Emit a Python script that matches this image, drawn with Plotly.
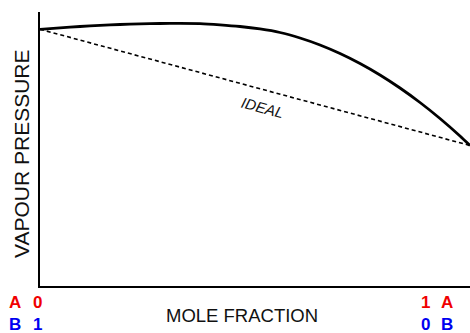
import plotly.graph_objects as go

# Mole fraction of A (0 -> 1)
mole_fraction = [0.0, 0.0465, 0.093, 0.1395, 0.186, 0.2326, 0.279, 0.3256, 0.372,
                 0.4186, 0.4651, 0.5116, 0.5581, 0.6047, 0.6512, 0.6977, 0.7442,
                 0.7907, 0.8372, 0.8837, 0.9302, 0.9767, 1.0]
# Observed vapour pressure (arbitrary units)
vapour_pressure = [93.69, 94.23, 94.71, 95.11, 95.44, 95.66, 95.80, 95.84, 95.77,
                   95.33, 94.71, 93.80, 92.52, 90.51, 87.96, 84.85, 81.20,
                   77.01, 72.26, 66.97, 61.13, 54.74, 51.28]
# Ideal (Raoult's law) line endpoints
ideal_x = [0.0, 1.0]
ideal_y = [93.69, 51.28]

W, H = 470, 333
ML, MR, MT, MB = 40, 0, 12, 47
PW, PH = W - ML - MR, H - MT - MB

def px(x):
    return (x - ML) / PW

def py(y):
    return (H - MB - y) / PH

FONT = "Liberation Sans, Arial, sans-serif"

fig = go.Figure()
fig.add_trace(go.Scatter(x=ideal_x, y=ideal_y, mode="lines",
                         line=dict(color="black", width=1.6, dash="4px,3px"),
                         hoverinfo="skip"))
fig.add_trace(go.Scatter(x=mole_fraction, y=vapour_pressure, mode="lines",
                         line=dict(color="black", width=2.8, shape="spline", smoothing=0.6),
                         hoverinfo="skip"))

annotations = [
    dict(text="<i>IDEAL</i>", x=0.517, y=65.3, xref="x", yref="y", showarrow=False,
         xanchor="center", yanchor="middle",
         textangle=15, font=dict(family=FONT, size=15, color="#111")),
    dict(text="VAPOUR PRESSURE", x=px(22), y=py(154), xref="paper", yref="paper",
         xanchor="center", yanchor="middle",
         showarrow=False, textangle=-90, font=dict(family=FONT, size=21, color="#111")),
    dict(text="MOLE FRACTION", x=px(242), y=py(315), xref="paper", yref="paper",
         xanchor="center", yanchor="middle",
         showarrow=False, font=dict(family=FONT, size=18.5, color="#111")),
]
labels = [
    ("A", 15, 302, "#f00000"), ("0", 37, 302, "#f00000"),
    ("B", 15, 324, "#0000f0"), ("1", 37, 324, "#0000f0"),
    ("1", 425, 302, "#f00000"), ("A", 447, 302, "#f00000"),
    ("0", 425, 324, "#0000f0"), ("B", 447, 324, "#0000f0"),
]
for t, x, y, c in labels:
    annotations.append(dict(text="<b>%s</b>" % t, x=px(x), y=py(y), xref="paper", yref="paper",
                            xanchor="center", yanchor="middle",
                            showarrow=False, font=dict(family=FONT, size=17, color=c)))

fig.update_layout(
    width=W, height=H,
    margin=dict(l=ML, r=MR, t=MT, b=MB, pad=0),
    paper_bgcolor="white", plot_bgcolor="white",
    showlegend=False,
    annotations=annotations,
    xaxis=dict(range=[0, 1], showgrid=False, zeroline=False, showticklabels=False,
               ticks="", showline=True, linecolor="black", linewidth=2),
    yaxis=dict(range=[0, 100], showgrid=False, zeroline=False, showticklabels=False,
               ticks="", showline=True, linecolor="black", linewidth=2),
)
fig.write_html("out.html", config={"displayModeBar": False},
               post_script="document.body.style.margin='0';")
